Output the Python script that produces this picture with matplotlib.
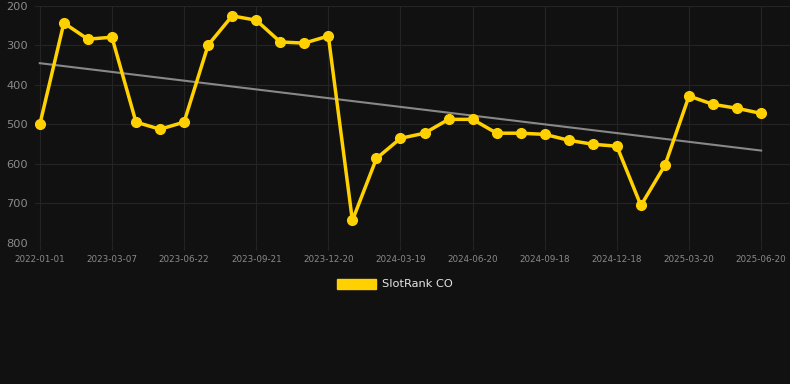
import numpy as np
import matplotlib
matplotlib.use("Agg")
import matplotlib.pyplot as plt
from matplotlib.patches import Patch

dates = ["2022-01-01", "2023-01-15", "2023-02-10", "2023-03-07", "2023-04-01",
         "2023-04-27", "2023-06-22", "2023-07-20", "2023-08-25", "2023-09-21",
         "2023-10-20", "2023-11-20", "2023-12-20", "2024-01-20", "2024-02-19",
         "2024-03-19", "2024-04-19", "2024-05-20", "2024-06-20", "2024-07-20",
         "2024-08-19", "2024-09-18", "2024-10-18", "2024-11-18", "2024-12-18",
         "2025-01-18", "2025-02-18", "2025-03-20", "2025-04-20", "2025-05-20",
         "2025-06-20"]
rank = [500, 243, 284, 279, 494, 512, 494, 299, 225, 236, 291, 294, 276, 743,
        586, 535, 522, 487, 487, 522, 522, 525, 540, 550, 555, 705, 603, 428,
        449, 459, 472]

bg = "#111111"
gold = "#FFD100"

fig = plt.figure(figsize=(7.9, 3.84), dpi=100, facecolor=bg)
ax = fig.add_axes([35 / 790, 1 - 243 / 384, 755 / 790, 237 / 384], facecolor=bg)

x = np.arange(len(rank))
ax.plot(x, rank, color=gold, lw=2.5, marker="o", ms=7, zorder=3)

# linear trend
k, b = np.polyfit(x, rank, 1)
ax.plot(x, k * x + b, color="#888888", lw=1.5, zorder=2)

ax.set_ylim(800, 200)
ax.set_yticks([200, 300, 400, 500, 600, 700, 800])
ax.set_xlim(-0.2, 31.2)
ax.set_xticks(x[::3])
ax.set_xticklabels(dates[::3])

ax.grid(True, color="#242424", lw=0.8)
for s in ax.spines.values():
    s.set_visible(False)
ax.tick_params(axis="y", colors="#8a8a8a", labelsize=8.2, length=0, pad=5)
ax.tick_params(axis="x", colors="#8a8a8a", labelsize=6.3, length=5, color="#242424", pad=4)

fig.legend(handles=[Patch(color=gold, label="SlotRank CO")], loc="center",
           bbox_to_anchor=(0.5, 1 - 284 / 384), frameon=False, fontsize=8.2,
           labelcolor="#e6e6e6", handlelength=3.4, handleheight=1.0, handletextpad=0.6)

fig.savefig("out.png", dpi=100, facecolor=bg)
